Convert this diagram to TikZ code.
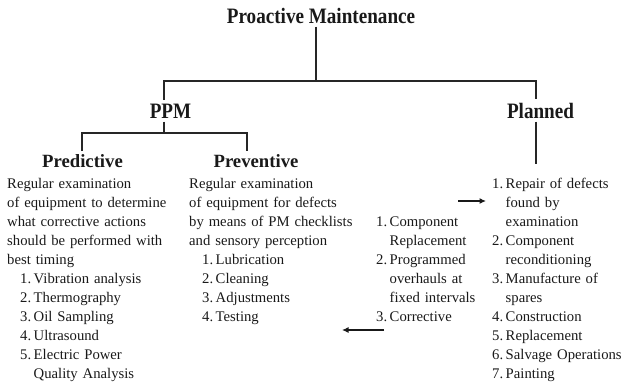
\documentclass[tikz,border=0pt]{standalone}
\usepackage{fontspec}
\setmainfont{Liberation Serif}
\usetikzlibrary{arrows.meta}
\hyphenpenalty=10000
\exhyphenpenalty=10000
\newcommand\itm[2]{\makebox[0.92em][l]{#1}#2}
\newcommand\headtxt[1]{\scalebox{0.87}[1]{\bfseries\fontsize{22}{22}\selectfont #1}}
\begin{document}
\begin{tikzpicture}[x=1pt,y=-1pt,
  every node/.style={inner sep=0pt, text=black!90},
  headnode/.style={outer sep=3.5pt, anchor=base},
  subnode/.style={outer sep=3pt, anchor=base, font=\bfseries\fontsize{18.7}{19}\selectfont},
  coltext/.style={anchor=base west, align=left, text width=#1, font=\fontsize{14.7}{19}\selectfont},
  conn/.style={line width=1.1pt, draw=black!85},
  flow/.style={line width=1.2pt, draw=black!90, -{Latex[length=6.5pt,width=6pt]}}]
\useasboundingbox (0,0) rectangle (621,386);

% headings
\node[headnode] (title) at (321,23) {\headtxt{Proactive Maintenance}};
\node[headnode] (ppm) at (170.5,118) {\headtxt{PPM}};
\node[headnode] (planned) at (540.5,118) {\headtxt{Planned}};
\node[subnode] (pred) at (82.5,167) {Predictive};
\node[subnode] (prev) at (256,167) {Preventive};

% text columns
\node[coltext=170pt] (predtxt) at (7,188) {Regular examination\\
of equipment to determine\\
what corrective actions\\
should be performed with\\
best timing\\
\hspace*{13pt}\itm{1.}{Vibration analysis}\\
\hspace*{13pt}\itm{2.}{Thermography}\\
\hspace*{13pt}\itm{3.}{Oil Sampling}\\
\hspace*{13pt}\itm{4.}{Ultrasound}\\
\hspace*{13pt}\itm{5.}{Electric Power}\\
\hspace*{13pt}\itm{}{Quality Analysis}};

\node[coltext=175pt] (prevtxt) at (189,188) {Regular examination\\
of equipment for defects\\
by means of PM checklists\\
and sensory perception\\
\hspace*{13pt}\itm{1.}{Lubrication}\\
\hspace*{13pt}\itm{2.}{Cleaning}\\
\hspace*{13pt}\itm{3.}{Adjustments}\\
\hspace*{13pt}\itm{4.}{Testing}};

\node[coltext=120pt] (midtxt) at (376,226) {\itm{1.}{Component}\\
\itm{}{Replacement}\\
\itm{2.}{Programmed}\\
\itm{}{overhauls at}\\
\itm{}{fixed intervals}\\
\itm{3.}{Corrective}};

\node[coltext=150pt] (plantxt) at (492,188) {\itm{1.}{Repair of defects}\\
\itm{}{found by}\\
\itm{}{examination}\\
\itm{2.}{Component}\\
\itm{}{reconditioning}\\
\itm{3.}{Manufacture of}\\
\itm{}{spares}\\
\itm{4.}{Construction}\\
\itm{5.}{Replacement}\\
\itm{6.}{Salvage Operations}\\
\itm{7.}{Painting}};

% junction coordinates
\coordinate (j1) at (316,81);
\coordinate (l1) at (164,81);
\coordinate (r1) at (536,81);
\coordinate (j2) at (164,133);
\coordinate (a2) at (82,133);
\coordinate (b2) at (247,133);
\coordinate (pe) at (536,164);

% tree connectors
\draw[conn] (title.south -| j1) -- (j1);
\draw[conn] (ppm.north -| l1) -- (l1) -- (r1) -- (planned.north -| r1);
\draw[conn] (ppm.south -| j2) -- (j2);
\draw[conn] (pred.north -| a2) -- (a2) -- (b2) -- (prev.north -| b2);
\draw[conn] (planned.south -| r1) -- (pe);

% floating arrows
\coordinate (ar1) at (458,201);
\coordinate (ar2) at (486,201);
\coordinate (al1) at (384,330);
\coordinate (al2) at (342,330);
\draw[flow] (ar1) -- (ar2);
\draw[flow] (al1) -- (al2);
\end{tikzpicture}
\end{document}
